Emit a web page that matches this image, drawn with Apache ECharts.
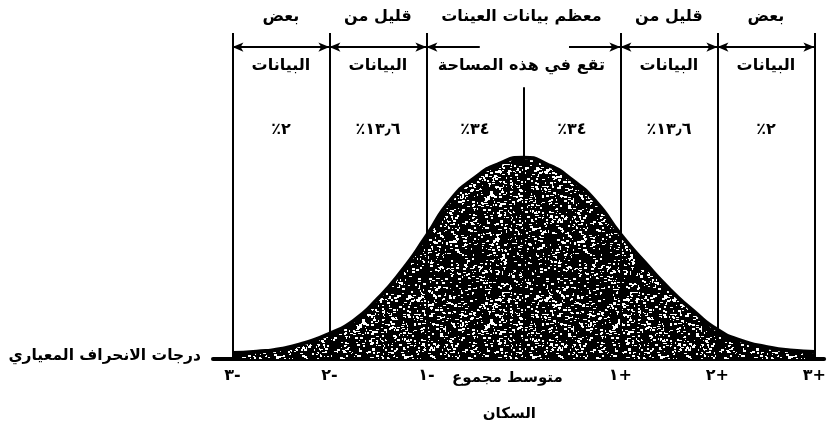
<!DOCTYPE html>
<html>
<head>
<meta charset="utf-8">
<script src="https://cdn.jsdelivr.net/npm/echarts@6/dist/echarts.min.js"></script>
<style>
  html, body { margin: 0; padding: 0; background: #fff; }
  #chart { width: 829px; height: 427px; }
</style>
</head>
<body>
<div id="chart"></div>
<script>
// Standard-deviation positions and their labels under the axis
const sigmaTicks = [-3, -2, -1, 0, 1, 2, 3];
const tickLabels = ['٣-', '٢-', '١-', 'متوسط مجموع\nالسكان', '١+', '٢+', '٣+'];

// Bell curve height (peak = 100), sampled every quarter of a standard deviation
const curveX = [-3, -2.75, -2.5, -2.25, -2, -1.75, -1.5, -1.25, -1, -0.75, -0.5, -0.25, 0,
                0.25, 0.5, 0.75, 1, 1.25, 1.5, 1.75, 2, 2.25, 2.5, 2.75, 3];
const curveY = [3, 3.6, 5, 8, 12.5, 19, 30, 44, 61, 79, 90, 97, 100,
                96.5, 89, 78, 62, 48, 35, 24, 14.5, 9, 6, 4.2, 3.5];

// Share of the data falling in each band between neighbouring boundaries
const bandShares = ['٪٢', '٪١٣٫٦', '٪٣٤', '٪٣٤', '٪١٣٫٦', '٪٢'];
const bandTopWords = ['بعض', 'قليل من', '', '', 'قليل من', 'بعض'];
const bandSecondWords = ['البيانات', 'البيانات', '', '', 'البيانات', 'البيانات'];
const middleTop = 'معظم بيانات العينات';
const middleSecond = 'تقع في هذه المساحة';
const axisTitle = 'درجات الانحراف المعياري';

// ---- drawing settings ----
const FONT = '"DejaVu Sans", "Noto Sans", sans-serif';
const Y_MAX = 162;          // top of the plotting area (above the curve, where arrows live)
const ARROW_LEVEL = 155;    // height of the double arrows
const CENTER_TOP = 135;     // top of the mean line

// Black stipple texture for the area under the curve
function stipple(size, density, seed) {
  const c = document.createElement('canvas');
  c.width = c.height = size;
  const g = c.getContext('2d');
  g.fillStyle = '#000';
  g.fillRect(0, 0, size, size);
  let s = seed >>> 0;
  const next = () => { s ^= s << 13; s >>>= 0; s ^= s >>> 17; s ^= s << 5; s >>>= 0; return s / 4294967296; };
  g.fillStyle = '#fff';
  const n = Math.floor(size * size * density);
  for (let i = 0; i < n; i++) {
    const x = Math.floor(next() * size), y = Math.floor(next() * size);
    const w = 1 + Math.floor(next() * 3), h = 1 + Math.floor(next() * 2);
    g.fillRect(x, y, w, h);
  }
  return c;
}

const chart = echarts.init(document.getElementById('chart'), null, { renderer: 'canvas' });

const boundaryLines = sigmaTicks.filter(v => v !== 0).map(v => ({ xAxis: v }));
const centerLine = [{ coord: [0, 0] }, { coord: [0, CENTER_TOP] }];

// Double arrows for each band; the middle pair of bands has a gap for its caption
const arrowSegs = [];
for (let i = 0; i < sigmaTicks.length - 1; i++) {
  const a = sigmaTicks[i], b = sigmaTicks[i + 1];
  if (a === -1 || a === 0) continue;
  arrowSegs.push([{ coord: [a, ARROW_LEVEL] }, { coord: [b, ARROW_LEVEL] }]);
}
arrowSegs.push([{ coord: [-1, ARROW_LEVEL], symbol: 'arrow' }, { coord: [-0.45, ARROW_LEVEL], symbol: 'none' }]);
arrowSegs.push([{ coord: [0.47, ARROW_LEVEL], symbol: 'none' }, { coord: [1, ARROW_LEVEL], symbol: 'arrow' }]);

chart.setOption({
  animation: false,
  backgroundColor: '#fff',
  grid: { left: 213, right: 0, top: 33, bottom: 68, containLabel: false },
  xAxis: {
    type: 'value', min: -3.2, max: 3.1,
    splitLine: { show: false },
    axisLine: { show: true, onZero: false, lineStyle: { color: '#000', width: 4 } },
    axisTick: { show: false },
    axisLabel: {
      customValues: sigmaTicks,
      margin: 9,
      color: '#000', fontFamily: FONT, fontWeight: 'bold', fontSize: 16,
      formatter: v => { const i = sigmaTicks.indexOf(v); return i < 0 || v === 0 ? '' : tickLabels[i]; }
    }
  },
  yAxis: { type: 'value', min: 0, max: Y_MAX, show: false },
  series: [
    {
      type: 'line',
      data: curveX.map((x, i) => [x, curveY[i]]),
      smooth: 0.6,
      symbol: 'none',
      lineStyle: { color: '#000', width: 4 },
      areaStyle: { origin: 'start', opacity: 1, color: { image: stipple(128, 0.07, 20240611), repeat: 'repeat' } },
      z: 2,
      markLine: {
        silent: true, symbol: 'none', label: { show: false },
        lineStyle: { color: '#000', width: 2, type: 'solid' },
        data: boundaryLines.concat([centerLine])
      }
    },
    {
      type: 'line', data: [], z: 3,
      markLine: {
        silent: true, symbol: ['arrow', 'arrow'], symbolSize: [7, 11], label: { show: false },
        lineStyle: { color: '#000', width: 2, type: 'solid' },
        data: arrowSegs
      }
    }
  ]
});

// Captions placed over the bands
const px = v => chart.convertToPixel({ gridIndex: 0 }, [v, 0])[0];
const txt = (x, y, s, size, align) => ({
  type: 'text', x, y, silent: true,
  style: { text: s, fill: '#000', font: `bold ${size}px ${FONT}`, align: align || 'center', verticalAlign: 'middle' }
});
const graphics = [];
for (let i = 0; i < bandShares.length; i++) {
  const cx = (px(sigmaTicks[i]) + px(sigmaTicks[i + 1])) / 2;
  if (bandTopWords[i]) graphics.push(txt(cx, 17, bandTopWords[i], 16));
  if (bandSecondWords[i]) graphics.push(txt(cx, 66, bandSecondWords[i], 16));
  graphics.push(txt(cx, 130, bandShares[i], 16));
}
graphics.push(txt(px(0) - 2, 17, middleTop, 16));
graphics.push(txt(px(0) - 2, 66, middleSecond, 16));
graphics.push(txt(201, 356, axisTitle, 15.5, 'right'));
const meanLabel = tickLabels[sigmaTicks.indexOf(0)].split('\n');
graphics.push(txt(px(0) - 16, 378, meanLabel[0], 15));
graphics.push(txt(px(0) - 14, 414, meanLabel[1], 15));
chart.setOption({ graphic: graphics });
</script>
</body>
</html>
